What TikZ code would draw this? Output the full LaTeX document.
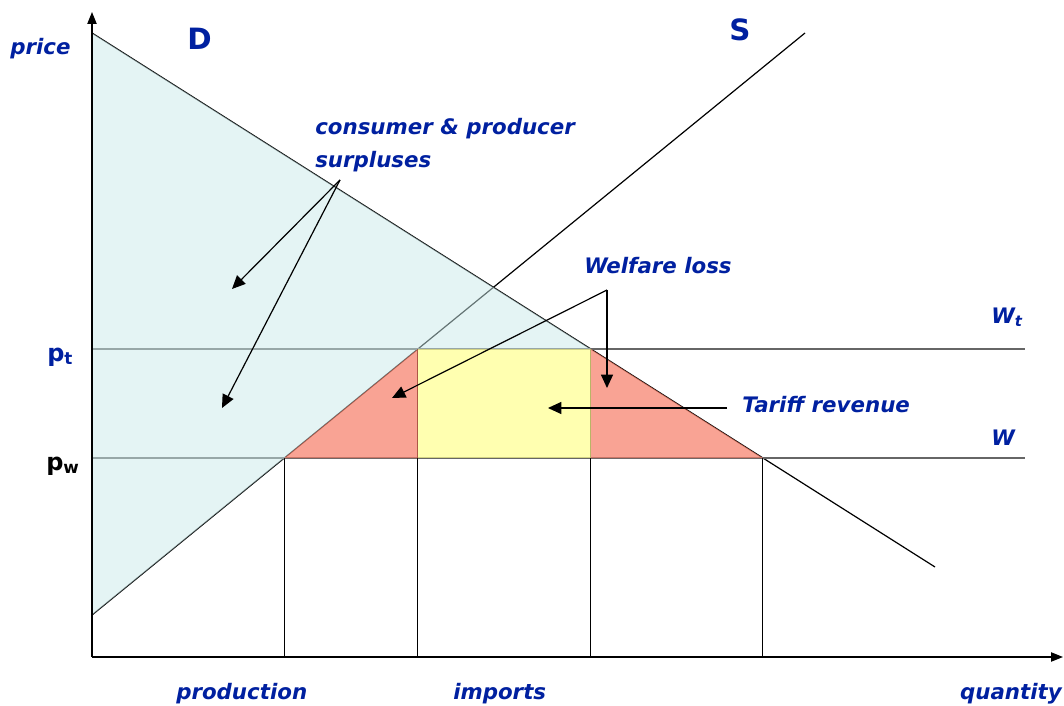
\documentclass[tikz,border=0pt]{standalone}
\usepackage{fontspec}
\newfontfamily\lblfont{DejaVu Sans}
\usetikzlibrary{arrows.meta}
\definecolor{lblblue}{RGB}{0,32,160}
\definecolor{surplus}{RGB}{201,233,233}
\definecolor{lossred}{RGB}{246,124,102}
\definecolor{revyellow}{RGB}{255,255,142}

\begin{document}
\begin{tikzpicture}[x=0.75pt, y=-0.75pt,
  every node/.style={inner sep=0pt},
  lbl/.style={font=\lblfont\bfseries\itshape\fontsize{16}{19}\selectfont, text=lblblue, anchor=base west},
  big/.style={font=\lblfont\bfseries\fontsize{22}{24}\selectfont, text=lblblue, anchor=base west},
  curve/.style={line width=0.9pt},
  lvl/.style={line width=1.1pt, draw=black!60},
  ptr/.style={line width=0.9pt, -{Triangle[length=10pt,width=9pt]}}]
  \useasboundingbox (0,0) rectangle (1064,706);

  % demand, supply and price levels
  \coordinate (O) at (92,657);
  \coordinate (Dtop) at (92,33);
  \coordinate (Dend) at (935,567);
  \coordinate (Sbot) at (92,615);
  \coordinate (Stop) at (805,33);
  \coordinate (ptleft) at (92,349);
  \coordinate (ptright) at (1025,349);
  \coordinate (pwleft) at (92,458);
  \coordinate (pwright) at (1025,458);
  \coordinate (A) at (intersection of Sbot--Stop and pwleft--pwright);
  \coordinate (B) at (intersection of Sbot--Stop and ptleft--ptright);
  \coordinate (C) at (intersection of Dtop--Dend and ptleft--ptright);
  \coordinate (E) at (intersection of Dtop--Dend and pwleft--pwright);

  \draw[curve] (Dtop) -- (Dend);
  \draw[curve] (Sbot) -- (Stop);
  \draw[lvl] (ptleft) -- (ptright);
  \draw[lvl] (pwleft) -- (pwright);
  \foreach \p in {A,B,C,E}
    \draw[line width=0.8pt] (\p) -- (\p |- O);

  % areas
  \fill[surplus, fill opacity=0.5] (Dtop) -- (C) -- (B) -- (Sbot) -- cycle;
  \fill[lossred, fill opacity=0.7] (A) -- (B) -- (B |- A) -- cycle;
  \fill[lossred, fill opacity=0.7] (C) -- (E) -- (C |- E) -- cycle;
  \fill[revyellow, fill opacity=0.7] (B) rectangle (C |- A);

  % axes
  \draw[line width=0.9pt, -{Triangle[length=9pt,width=7pt]}] (O) -- (92,12);
  \draw[line width=0.9pt, -{Triangle[length=9pt,width=7pt]}] (O) -- (1063,657);

  % labels
  \node[lbl] (price) at (10,55) {price};
  \node[big] (dem) at (187,50) {D};
  \node[big] (sup) at (729,41) {S};
  \node[lbl] (cs1) at (315,135) {consumer \& producer};
  \node[lbl] (cs2) at (315,168) {surpluses};
  \node[lbl] (wloss) at (584,273) {Welfare loss};
  \node[lbl] (tariff) at (742,412) {Tariff revenue};
  \node[lbl] (wt) at (991,323) {W\textsubscript{t}};
  \node[lbl] (w) at (991,445) {W};
  \node[font=\lblfont\bfseries\fontsize{18}{20}\selectfont, text=lblblue, anchor=base west] (pt) at (47,361) {p\textsubscript{t}};
  \node[font=\lblfont\bfseries\fontsize{18}{20}\selectfont, anchor=base west] (pw) at (46,470) {p\textsubscript{w}};
  \node[lbl] (prod) at (176,699) {production};
  \node[lbl] (imp) at (453,699) {imports};
  \node[lbl, anchor=base east] (qty) at (1062,699) {quantity};

  % pointers
  \coordinate (csfork) at (340,180);
  \coordinate (csup) at (232,289);
  \coordinate (cslow) at (222,408);
  \coordinate (wfork) at (607,290);
  \coordinate (wleft) at (392,398);
  \coordinate (wright) at (607,388);
  \coordinate (tstart) at (727,408);
  \coordinate (tend) at (548,408);
  \draw[ptr] (csfork) -- (csup);
  \draw[ptr] (csfork) -- (cslow);
  \draw[ptr] (wfork) -- (wleft);
  \draw[ptr] (wfork) -- (wright);
  \draw[ptr] (tstart) -- (tend);
\end{tikzpicture}
\end{document}
